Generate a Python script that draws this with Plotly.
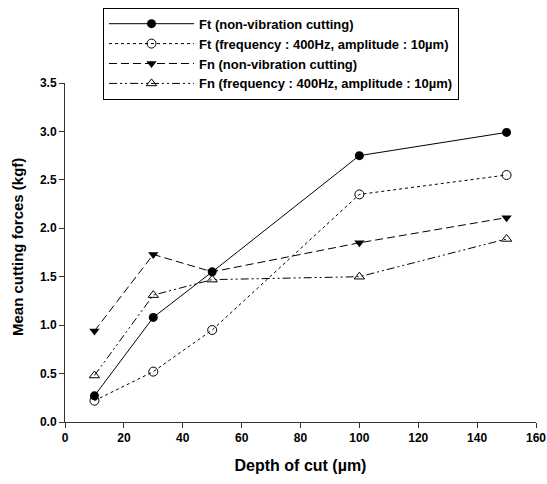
import plotly.graph_objects as go

depth = [10, 30, 50, 100, 150]
ft_nonvib = [0.27, 1.08, 1.55, 2.75, 2.99]
ft_vib = [0.22, 0.52, 0.95, 2.35, 2.55]
fn_nonvib = [0.94, 1.73, 1.55, 1.85, 2.11]
fn_vib = [0.48, 1.31, 1.47, 1.50, 1.89]

names = [
    "Ft (non-vibration cutting)",
    "Ft (frequency : 400Hz, amplitude : 10\u00b5m)",
    "Fn (non-vibration cutting)",
    "Fn (frequency : 400Hz, amplitude : 10\u00b5m)",
]
x_ticks = [0, 20, 40, 60, 80, 100, 120, 140, 160]
y_ticks = [0.0, 0.5, 1.0, 1.5, 2.0, 2.5, 3.0, 3.5]
y_title = "Mean cutting forces (kgf)"
x_title = "Depth of cut (\u00b5m)"

FONT = "Arial, Liberation Sans, sans-serif"

series = [
    (ft_nonvib, names[0], "solid", dict(symbol="circle", color="black", size=9)),
    (ft_vib, names[1], "dot", dict(symbol="circle-open", color="black", size=9, line=dict(width=1, color="black"))),
    (fn_nonvib, names[2], "8px,4px", dict(symbol="triangle-down", color="black", size=9)),
    (fn_vib, names[3], "8px,3px,2px,3px,2px,3px", dict(symbol="triangle-up-open", color="black", size=9, line=dict(width=1, color="black"))),
]

fig = go.Figure()
for vals, name, dash, marker in series:
    fig.add_trace(go.Scatter(
        x=depth, y=vals, name=name, mode="lines+markers",
        line=dict(color="black", width=1, dash=dash),
        marker=marker, cliponaxis=False,
    ))

fig.update_layout(
    width=547, height=484,
    margin=dict(l=65, r=11, t=83, b=62, autoexpand=False),
    paper_bgcolor="white", plot_bgcolor="white",
    font=dict(family=FONT, color="black", size=12, weight="bold"),
    showlegend=True,
    legend=dict(
        x=0.0807, y=1.222, xanchor="left", yanchor="top",
        bordercolor="black", borderwidth=1, bgcolor="white",
        font=dict(family=FONT, size=13, color="black", weight="bold"),
        tracegroupgap=0, itemwidth=85,
    ),
    xaxis=dict(
        range=[0, 160], tickvals=x_ticks, ticktext=[str(v) for v in x_ticks],
        showgrid=False, zeroline=False, showline=True, linecolor="#333", linewidth=1,
        ticks="outside", ticklen=5, tickcolor="#333", automargin=False,
        tickfont=dict(family=FONT, size=12, weight="bold"),
        title=dict(text=x_title, font=dict(family=FONT, size=16, weight="bold"), standoff=15),
    ),
    yaxis=dict(
        range=[0, 3.5], tickvals=y_ticks, ticktext=[f"{v:.1f}" for v in y_ticks],
        showgrid=False, zeroline=False, showline=True, linecolor="#333", linewidth=1,
        ticks="outside", ticklen=5, tickcolor="#333", automargin=False,
        tickfont=dict(family=FONT, size=12, weight="bold"),
    ),
    annotations=[dict(
        text=y_title, textangle=-90, xref="paper", yref="paper",
        x=-0.102, y=0.516, xanchor="center", yanchor="middle", showarrow=False,
        font=dict(family=FONT, size=15, weight="bold", color="black"),
    )],
)

fig.write_html("out.html", post_script="document.body.style.margin='0';",
               config={"displayModeBar": False})
